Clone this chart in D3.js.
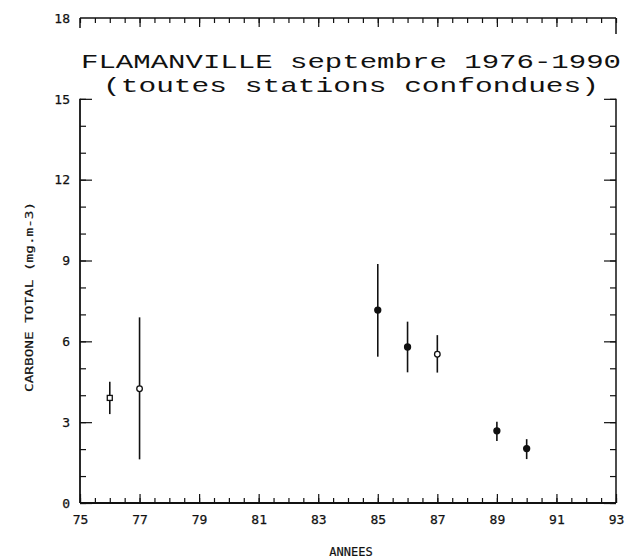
<!DOCTYPE html>
<html>
<head>
<meta charset="utf-8">
<script src="https://cdn.jsdelivr.net/npm/d3@7"></script>
<style>
  html, body { margin: 0; padding: 0; background: #fff; }
  svg { display: block; }
  .tick text { font-family: "DejaVu Sans Mono", monospace; font-size: 13px; fill: #111; stroke: #111; stroke-width: 0.25px; }
</style>
</head>
<body>
<svg id="chart" width="632" height="558"></svg>
<script>
// Total carbon, Flamanville, September surveys (all stations pooled)
const years    = [76, 77, 85, 86, 87, 89, 90];
const means    = [3.90, 4.24, 7.16, 5.79, 5.52, 2.68, 2.02];
const lows     = [3.30, 1.62, 5.43, 4.85, 4.84, 2.30, 1.63];
const highs    = [4.50, 6.89, 8.87, 6.73, 6.23, 3.02, 2.37];
const symbols  = ["square", "circle", "dot", "dot", "circle", "dot", "dot"];

const xMajorTicks = [75, 77, 79, 81, 83, 85, 87, 89, 91, 93];
const xMinorTicks = d3.range(75, 93.01, 0.5);
const yMajorTicks = [0, 3, 6, 9, 12, 15];
const yMinorTicks = d3.range(0, 15.01, 1);
const yLabelTicks = [0, 3, 6, 9, 12, 15, 18];

const titleLines = ["FLAMANVILLE septembre 1976-1990", "(toutes stations confondues)"];
const yTitle = "CARBONE TOTAL (mg.m-3)";
const xTitle = "ANNEES";

const svg = d3.select("#chart");
const x = d3.scaleLinear().domain([75, 93]).range([80, 616]);
const y = d3.scaleLinear().domain([0, 18]).range([503, 18]);

const ink = "#111";

function styleAxis(g) {
  g.select(".domain").remove();
  g.selectAll(".tick line").attr("stroke", ink).attr("stroke-width", 1.2);
}

// bottom axis: half-year minor ticks, odd-year major ticks with labels
svg.append("g").attr("transform", `translate(0,${y(0)})`)
  .call(d3.axisBottom(x).tickValues(xMinorTicks).tickSize(-5).tickFormat(""))
  .call(styleAxis);
svg.append("g").attr("transform", `translate(0,${y(0)})`)
  .call(d3.axisBottom(x).tickValues(xMajorTicks).tickSize(-9).tickPadding(12).tickFormat(d3.format("d")))
  .call(styleAxis);

// top frame line at 18 with downward ticks
svg.append("g").attr("transform", `translate(0,${y(18)})`)
  .call(d3.axisTop(x).tickValues(xMinorTicks).tickSize(-5).tickFormat(""))
  .call(styleAxis);
svg.append("g").attr("transform", `translate(0,${y(18)})`)
  .call(d3.axisTop(x).tickValues(xMajorTicks.slice(1, -1)).tickSize(-9).tickFormat(""))
  .call(styleAxis);

// left axis ticks and labels
svg.append("g").attr("transform", `translate(${x(75)},0)`)
  .call(d3.axisLeft(y).tickValues(yMinorTicks).tickSize(-6).tickFormat(""))
  .call(styleAxis);
svg.append("g").attr("transform", `translate(${x(75)},0)`)
  .call(d3.axisLeft(y).tickValues(yMajorTicks).tickSize(-12).tickFormat(""))
  .call(styleAxis);
svg.append("g").attr("transform", `translate(${x(75)},0)`)
  .call(d3.axisLeft(y).tickValues(yLabelTicks).tickSize(0).tickPadding(10).tickFormat(d3.format("d")))
  .call(styleAxis);

// right axis ticks
svg.append("g").attr("transform", `translate(${x(93)},0)`)
  .call(d3.axisRight(y).tickValues(yMinorTicks).tickSize(-6).tickFormat(""))
  .call(styleAxis);
svg.append("g").attr("transform", `translate(${x(93)},0)`)
  .call(d3.axisRight(y).tickValues(yMajorTicks).tickSize(-12).tickFormat(""))
  .call(styleAxis);

// frame lines (broken between 15 and 18 to leave room for the title)
const frame = svg.append("g").attr("stroke", ink).attr("fill", "none");
frame.append("line").attr("x1", x(75)).attr("x2", x(93)).attr("y1", y(0)).attr("y2", y(0)).attr("stroke-width", 2);
frame.append("line").attr("x1", x(75)).attr("x2", x(75)).attr("y1", y(0)).attr("y2", y(15)).attr("stroke-width", 1.8);
frame.append("line").attr("x1", x(93)).attr("x2", x(93)).attr("y1", y(0)).attr("y2", y(15)).attr("stroke-width", 1.5);
frame.append("line").attr("x1", x(75)).attr("x2", x(93)).attr("y1", y(18)).attr("y2", y(18)).attr("stroke-width", 1.5);
frame.append("line").attr("x1", x(75)).attr("x2", x(75)).attr("y1", y(18)).attr("y2", y(18) + 10).attr("stroke-width", 1.5);
frame.append("line").attr("x1", x(93)).attr("x2", x(93)).attr("y1", y(18)).attr("y2", y(18) + 16).attr("stroke-width", 1.5);

// title, two lines
const title = svg.append("g")
  .attr("font-family", "'Liberation Mono', 'DejaVu Sans Mono', monospace")
  .attr("font-size", 21).attr("fill", ink);
title.append("text").attr("x", 81).attr("y", 68)
  .attr("textLength", 540).attr("lengthAdjust", "spacingAndGlyphs").text(titleLines[0]);
title.append("text").attr("x", 103).attr("y", 92)
  .attr("textLength", 496).attr("lengthAdjust", "spacingAndGlyphs").text(titleLines[1]);

// axis titles
svg.append("text")
  .attr("transform", `translate(33,${(y(0) + y(15)) / 2 - 4}) rotate(-90)`)
  .attr("text-anchor", "middle")
  .attr("font-family", "'DejaVu Sans Mono', monospace").attr("font-size", 11)
  .attr("stroke", ink).attr("stroke-width", 0.2)
  .attr("textLength", 190).attr("lengthAdjust", "spacingAndGlyphs")
  .attr("fill", ink).text(yTitle);
svg.append("text")
  .attr("x", (x(75) + x(93)) / 2 + 3).attr("y", 556)
  .attr("text-anchor", "middle")
  .attr("font-family", "'DejaVu Sans Mono', monospace").attr("font-size", 12)
  .attr("stroke", ink).attr("stroke-width", 0.2)
  .attr("fill", ink).text(xTitle);

// error bars
const pts = years.map((yr, i) => ({ yr, m: means[i], lo: lows[i], hi: highs[i], s: symbols[i] }));
svg.append("g").selectAll("line").data(pts).join("line")
  .attr("x1", d => x(d.yr)).attr("x2", d => x(d.yr))
  .attr("y1", d => y(d.lo)).attr("y2", d => y(d.hi))
  .attr("stroke", ink).attr("stroke-width", 1.6);

// mean markers
const mk = svg.append("g");
mk.selectAll("rect.sq").data(pts.filter(d => d.s === "square")).join("rect")
  .attr("x", d => x(d.yr) - 2.5).attr("y", d => y(d.m) - 2.5)
  .attr("width", 5).attr("height", 5)
  .attr("fill", "#fff").attr("stroke", ink).attr("stroke-width", 1.3);
mk.selectAll("circle.c").data(pts.filter(d => d.s !== "square")).join("circle")
  .attr("cx", d => x(d.yr)).attr("cy", d => y(d.m))
  .attr("r", d => d.s === "dot" ? 3 : 2.8)
  .attr("fill", d => d.s === "dot" ? ink : "#fff")
  .attr("stroke", ink).attr("stroke-width", 1.3);
</script>
</body>
</html>
